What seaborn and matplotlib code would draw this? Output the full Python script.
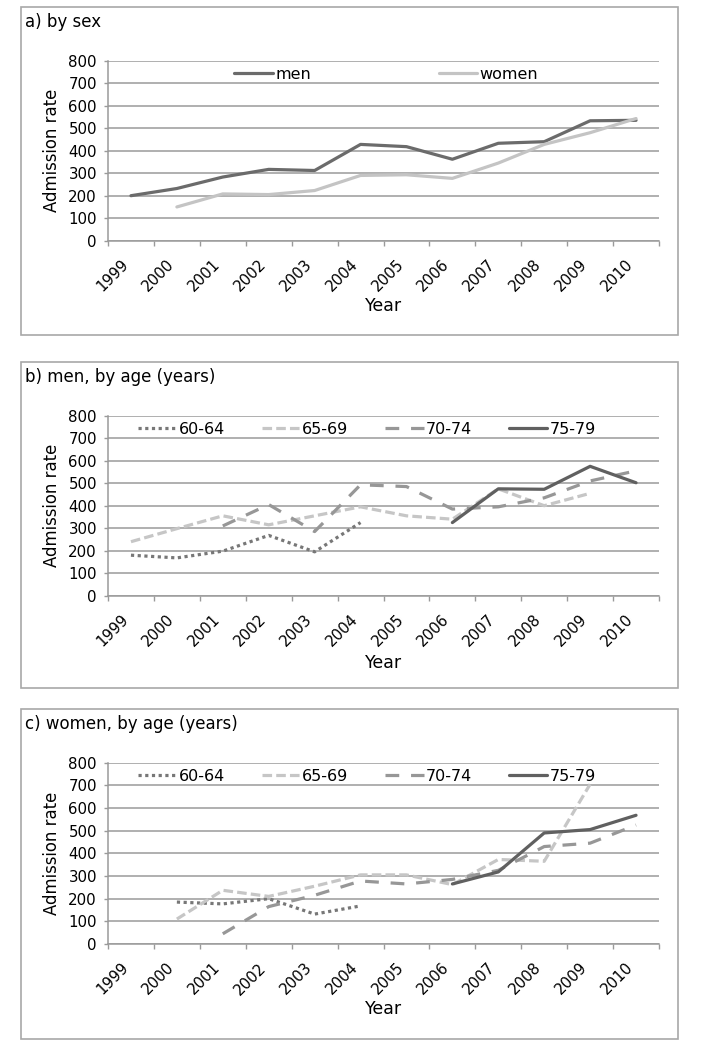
import numpy as np
import pandas as pd
import matplotlib.pyplot as plt
import matplotlib.transforms as mtransforms
from matplotlib.patches import Rectangle
import seaborn as sns

# Данные
years = [1999, 2000, 2001, 2002, 2003, 2004, 2005, 2006, 2007, 2008, 2009, 2010]

men = [200, 232, 283, 317, 312, 428, 418, 362, 433, 440, 533, 535]
women = [None, 150, 208, 205, 223, 290, 293, 277, 345, 428, 480, 543]

men_60_64 = [180, 168, 198, 268, 195, 325, None, None, None, None, None, None]
men_65_69 = [240, 298, 355, 315, 355, 395, 355, 340, 475, 400, 455, None]
men_70_74 = [None, None, 310, 405, 285, 493, 485, 385, 395, 435, 510, 555]
men_75_79 = [None, None, None, None, None, None, None, 325, 475, 473, 575, 502]

women_60_64 = [None, 185, 177, 200, 132, 168, None, None, None, None, None, None]
women_65_69 = [None, 110, 237, 210, 255, 305, 305, 262, 373, 365, 705, None]
women_70_74 = [None, None, 45, 165, 215, 278, 265, 285, 325, 430, 445, 525]
women_75_79 = [None, None, None, None, None, None, None, 265, 318, 490, 505, 568]

sex_labels = ['men', 'women']
age_labels = ['60-64', '65-69', '70-74', '75-79']


def long_table(series, labels):
    rows = []
    for name, vals in zip(labels, series):
        for y, v in zip(years, vals):
            if v is not None:
                rows.append({'Year': y, 'rate': v, 'group': name})
    return pd.DataFrame(rows)


age_pal = {'60-64': '#777777', '65-69': '#c6c6c6', '70-74': '#979797', '75-79': '#606060'}
age_dash = {'60-64': (1, 1.1), '65-69': (3, 1.3), '70-74': (4.3, 3.7), '75-79': ''}

# (заголовок, данные, порядок, цвета, штрихи, columnspacing, центр легенды)
panels = [
    ('a) by sex', long_table([men, women], sex_labels), sex_labels,
     {'men': '#6b6b6b', 'women': '#c4c4c4'},
     {'men': '', 'women': ''}, 8.0, 0.505),
    ('b) men, by age (years)',
     long_table([men_60_64, men_65_69, men_70_74, men_75_79], age_labels), age_labels,
     age_pal, age_dash, 2.3, 0.47),
    ('c) women, by age (years)',
     long_table([women_60_64, women_65_69, women_70_74, women_75_79], age_labels), age_labels,
     age_pal, age_dash, 2.3, 0.47),
]

sns.set_style('white')
plt.rcParams['font.family'] = ['DejaVu Sans']
plt.rcParams['text.color'] = 'black'
plt.rcParams['xtick.labelcolor'] = 'black'
plt.rcParams['ytick.labelcolor'] = 'black'

W, H = 702, 1048
fig = plt.figure(figsize=(W / 100, H / 100), dpi=100)

# пиксельные координаты: (верх рамки, низ рамки, верх осей, низ осей, заголовок, Year)
geom = [
    (7, 335, 60.7, 240.7, 22, 306),
    (362, 688, 415.7, 595.7, 377, 663),
    (709, 1039, 762.7, 944, 724, 1009),
]
grid_c = '#9a9a9a'

for (title, df, labels, pal, dsh, colsp, lx), (bt, bb, at, ab, ty, yy) in zip(panels, geom):
    fig.patches.append(Rectangle((20.5 / W, 1 - bb / H), 657.5 / W, (bb - bt) / H,
                                 transform=fig.transFigure, fill=False,
                                 edgecolor='#a8a8a8', linewidth=1.2))
    ax = fig.add_axes([108 / W, 1 - ab / H, 551 / W, (ab - at) / H])
    sns.lineplot(data=df, x='Year', y='rate', hue='group', style='group',
                 hue_order=labels, style_order=labels, palette=pal, dashes=dsh,
                 linewidth=2.3, ax=ax)
    ax.set_xlim(1998.5, 2010.5)
    ax.set_ylim(0, 800)
    ax.set_yticks(range(0, 801, 100))
    ax.set_xticks(years)
    ax.set_xticks(np.arange(1998.5, 2011, 1), minor=True)
    ax.set_xticklabels([str(y) for y in years], rotation=45, ha='right', va='top')
    offset = mtransforms.ScaledTranslation(4 / 100, 0, fig.dpi_scale_trans)
    for lab in ax.get_xticklabels():
        lab.set_transform(lab.get_transform() + offset)
    ax.tick_params(axis='x', which='major', length=0, pad=11.5, labelsize=10.8)
    ax.tick_params(axis='x', which='minor', length=3.8, width=1, color=grid_c,
                   direction='out', bottom=True)
    ax.tick_params(axis='y', length=3, width=1, color=grid_c, pad=5,
                   labelsize=10.8, left=True)
    ax.grid(axis='y', color=grid_c, linewidth=1.1)
    ax.set_axisbelow(True)
    for s in ['top', 'right']:
        ax.spines[s].set_visible(False)
    for s in ['left', 'bottom']:
        ax.spines[s].set_color(grid_c)
        ax.spines[s].set_linewidth(1.1)
    ax.set_xlabel('')
    ax.set_ylabel('')
    handles, labs = ax.get_legend_handles_labels()
    ax.legend(handles, labs, loc='upper center', bbox_to_anchor=(lx, 1.01),
              ncol=len(labels), frameon=False, fontsize=11.5, handlelength=2.4,
              handletextpad=0.15, columnspacing=colsp, borderaxespad=0.1)
    fig.text(25 / W, 1 - ty / H, title, fontsize=12, ha='left', va='center')
    fig.text(384 / W, 1 - yy / H, 'Year', fontsize=12.5, ha='center', va='center')
    fig.text(52 / W, 1 - (at + ab) / 2 / H, 'Admission rate', fontsize=11.9,
             rotation=90, ha='center', va='center')

plt.savefig('out.png', dpi=100)
